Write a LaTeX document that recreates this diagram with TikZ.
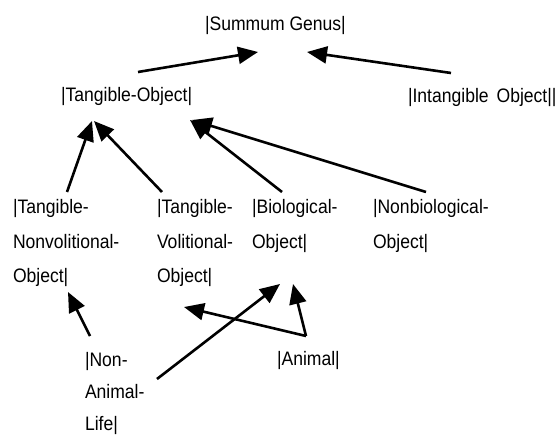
\documentclass[tikz,border=0pt]{standalone}
\usepackage{fontspec}
\setmainfont{Liberation Sans}[FakeStretch=0.9]
\usetikzlibrary{arrows.meta}
\begin{document}
\begin{tikzpicture}[x=1pt,y=-1pt,
  concept/.style={inner sep=0pt, outer sep=0pt, anchor=base west, align=left,
    font=\fontsize{19.5pt}{34.5pt}\selectfont},
  isa/.style={line width=2.6pt, -{Triangle[length=20pt,width=17pt]}}]
\useasboundingbox (0,0) rectangle (559,435);

% concept labels (multi-line labels are placed by their last baseline)
\node[concept] (sg)  at (205,31)    {|Summum Genus|};
\node[concept] (tob) at (61,102)    {|Tangible-Object|};
\node[concept] (iob) at (408,103)   {|Intangible\hspace{8pt}Object||};
\node[concept] (tno) at (13,283)    {|Tangible-\\Nonvolitional-\\Object|};
\node[concept] (tvo) at (157,283)   {|Tangible-\\Volitional-\\Object|};
\node[concept] (bio) at (252,248.5) {|Biological-\\Object|};
\node[concept] (nbo) at (373,248.5) {|Nonbiological-\\Object|};
\node[concept, font=\fontsize{19.5pt}{32pt}\selectfont] (nal) at (85,430) {|Non-\\Animal-\\Life|};
\node[concept] (ani) at (277,365)   {|Animal|};

% subsumption arrows
\draw[isa] ([shift={(77,-30)}]tob.base west)  -- ([shift={(53,21)}]sg.base west);
\draw[isa] ([shift={(43,-30)}]iob.base west)  -- ([shift={(102,21)}]sg.base west);
\draw[isa] ([shift={(54,-91)}]tno.base west)  -- ([shift={(31,19)}]tob.base west);
\draw[isa] ([shift={(5,-91)}]tvo.base west)   -- ([shift={(33,19)}]tob.base west);
\draw[isa] ([shift={(30,-56.5)}]bio.base west) -- ([shift={(129,18)}]tob.base west);
\draw[isa] ([shift={(53,-56.5)}]nbo.base west) -- ([shift={(131,18)}]tob.base west);
\draw[isa] ([shift={(5,-94)}]nal.base west)   -- ([shift={(55,9)}]tno.base west);
\draw[isa] ([shift={(29,-29)}]ani.base west)  -- ([shift={(27,24)}]tvo.base west);
\draw[isa] ([shift={(29,-29)}]ani.base west)  -- ([shift={(41,35.5)}]bio.base west);
\draw[isa] ([shift={(72,-51)}]nal.base west)  -- ([shift={(28,35.5)}]bio.base west);
\end{tikzpicture}
\end{document}
